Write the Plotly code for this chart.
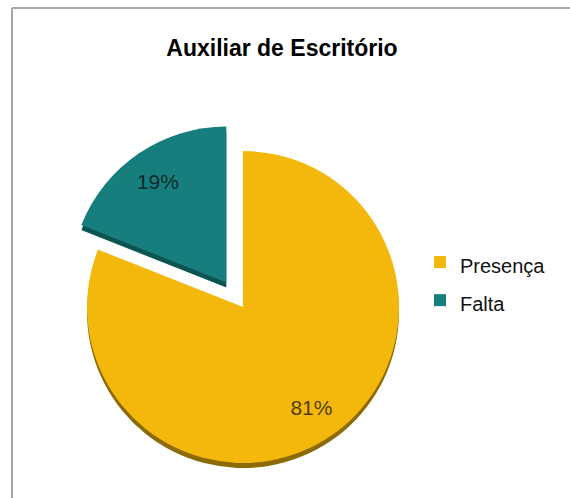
import plotly.graph_objects as go

# ---- data ----
labels = ["Presença", "Falta"]
values = [81, 19]
title_text = "Auxiliar de Escritório"

# ---- styles ----
W, H = 570, 498
colors = ["#F3B80B", "#167F7D"]
side_colors = ["#8C6A05", "#0B5452"]
pulls = [0, 0.19]
cx, cy, r = 243, 307, 156
half = r * (1 + max(pulls))
depth = 5
FONT = "Liberation Sans, Arial, sans-serif"

def dom(cx_, cy_):
    return dict(x=[(cx_ - half) / W, (cx_ + half) / W],
                y=[max(0, 1 - (cy_ + half) / H), 1 - (cy_ - half) / H])

legend_labels = ['<span style="font-size:20px">%s</span>' % l for l in labels]
common = dict(labels=legend_labels, values=values, sort=False,
              direction="clockwise", rotation=0, pull=pulls)

fig = go.Figure()
# 3D side (beneath, shifted down)
fig.add_trace(go.Pie(**common, domain=dom(cx, cy + depth),
                     marker=dict(colors=side_colors, line=dict(width=0)),
                     textinfo="none", showlegend=False, hoverinfo="skip"))
# top face
fig.add_trace(go.Pie(**common, domain=dom(cx, cy),
                     marker=dict(colors=colors, line=dict(width=0)),
                     textinfo="none", showlegend=True))
# percentage labels (transparent ring so labels sit toward the rim)
fig.add_trace(go.Pie(**common, domain=dom(cx, cy), hole=0.56,
                     marker=dict(colors=["rgba(0,0,0,0)"] * 2, line=dict(width=0)),
                     textinfo="percent", textposition="inside",
                     insidetextorientation="horizontal",
                     textfont=dict(family=FONT, size=21, color="rgba(0,0,0,0.7)"),
                     showlegend=False, hoverinfo="skip"))

fig.update_layout(
    width=W, height=H,
    margin=dict(l=0, r=0, t=0, b=0),
    paper_bgcolor="white", plot_bgcolor="white",
    title=dict(text="<b>" + title_text + "</b>", x=282 / W, xanchor="center",
               y=1 - 48 / H, yanchor="middle",
               font=dict(family=FONT, size=23, color="#000")),
    legend=dict(x=420 / W, xanchor="left", y=1 - 238 / H, yanchor="top",
                font=dict(family=FONT, size=27, color="#111"),
                bgcolor="rgba(0,0,0,0)", borderwidth=0, traceorder="normal"),
    shapes=[
        dict(type="line", xref="paper", yref="paper", x0=12 / W, x1=1, y0=1 - 8 / H, y1=1 - 8 / H,
             line=dict(color="#A6A6A6", width=2)),
        dict(type="line", xref="paper", yref="paper", x0=12 / W, x1=12 / W, y0=0, y1=1 - 8 / H,
             line=dict(color="#A6A6A6", width=2)),
    ],
)

fig.write_html("out.html", config={"displayModeBar": False},
               post_script="document.body.style.margin='0px';")
